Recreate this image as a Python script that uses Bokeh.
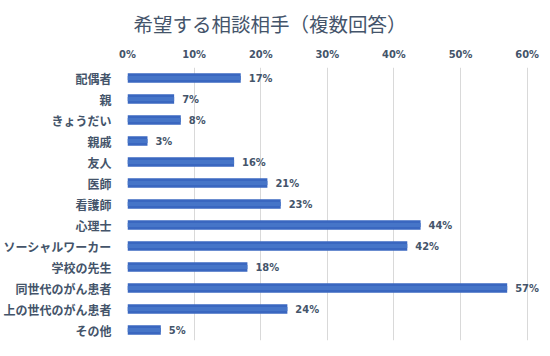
from bokeh.plotting import figure
from bokeh.models import FactorRange, Range1d, FixedTicker, PrintfTickFormatter, ColumnDataSource
from bokeh.core.properties import value
from bokeh.embed import file_html
from bokeh.resources import INLINE

categories = ["配偶者", "親", "きょうだい", "親戚", "友人", "医師", "看護師", "心理士",
              "ソーシャルワーカー", "学校の先生", "同世代のがん患者", "上の世代のがん患者", "その他"]
values = [17, 7, 8, 3, 16, 21, 23, 44, 42, 18, 57, 24, 5]
ticks = [0, 10, 20, 30, 40, 50, 60]
title_text = "希望する相談相手（複数回答）"

TXT = "#44546a"
src = ColumnDataSource(dict(cat=categories, val=values,
                            lbl=[f"{v}%" for v in values]))

p = figure(width=534, height=340, frame_width=413, frame_height=273,
           output_backend="svg", toolbar_location=None,
           y_range=FactorRange(factors=list(reversed(categories)), range_padding=0),
           x_range=Range1d(0, 62), x_axis_location="above",
           min_border_left=119, min_border_right=2, min_border_top=59, min_border_bottom=8)
p.outline_line_color = None
p.border_fill_color = "white"
p.background_fill_color = "white"

p.hbar(y="cat", right="val", left=0, height=0.45, source=src,
       fill_color="#3a67c0", line_color=None)
p.hbar(y="cat", right="val", left=0, height=0.2, source=src,
       fill_color="#4675c8", line_color=None)
p.text(x="val", y="cat", text="lbl", source=src, x_offset=8,
       text_align="left", text_baseline="middle", text_color=TXT,
       text_font=value("DejaVu Sans Condensed"), text_font_style="bold",
       text_font_size="11px")

xa = p.xaxis[0]
xa.ticker = FixedTicker(ticks=ticks)
xa.formatter = PrintfTickFormatter(format="%d%%")
xa.axis_line_color = None
xa.major_tick_line_color = None
xa.minor_tick_line_color = None
xa.major_label_text_color = TXT
xa.major_label_text_font = "DejaVu Sans Condensed"
xa.major_label_text_font_style = "bold"
xa.major_label_text_font_size = "11px"
xa.major_label_standoff = 1

ya = p.yaxis[0]
ya.axis_line_color = None
ya.major_tick_line_color = None
ya.minor_tick_line_color = None
ya.major_label_text_color = TXT
ya.major_label_text_font = "Noto Sans CJK JP"
ya.major_label_text_font_style = "bold"
ya.major_label_text_font_size = "12px"
ya.major_label_standoff = 10

p.xgrid.grid_line_color = "#d9d9d9"
p.ygrid.grid_line_color = None

p.title.text = title_text
p.title.align = "left"
p.title.offset = 0
p.title.text_color = TXT
p.title.text_font = "Noto Sans CJK JP"
p.title.text_font_style = "normal"
p.title.text_font_size = "19.5px"
p.title.padding = 6
p.title.standoff = 1

open("out.html", "w").write(file_html(p, INLINE))
